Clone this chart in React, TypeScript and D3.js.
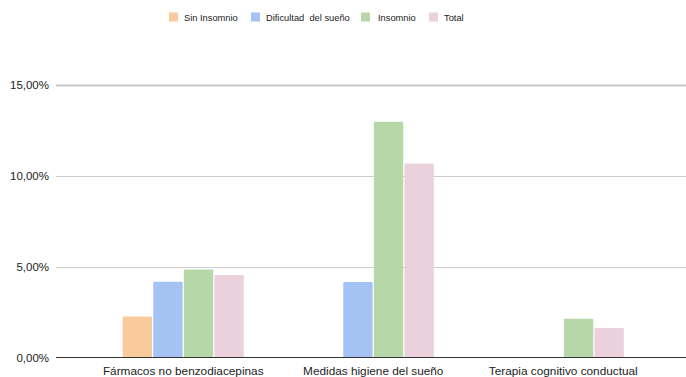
import React from "react";
import * as d3 from "d3";

const categories = ["Fármacos no benzodiacepinas", "Medidas higiene del sueño", "Terapia cognitivo conductual"];
const seriesNames = ["Sin Insomnio", "Dificultad  del sueño", "Insomnio", "Total"];
const seriesColors = ["#f9cb9c", "#a4c2f4", "#b6d7a8", "#ead1dc"];
const sinInsomnio = [2.26, 0, 0];
const dificultad = [4.17, 4.16, 0];
const insomnio = [4.85, 12.98, 2.13];
const total = [4.54, 10.68, 1.62];
const yTicks = [0, 5, 10, 15];
const legendX = [169, 251, 361, 429];
const legendTextX = [184, 266, 378, 444];

const W = 686;
const H = 377;

export default function App() {
  const series = [sinInsomnio, dificultad, insomnio, total];
  const y = d3.scaleLinear().domain([0, 15]).range([357.5, 85]);
  const x0 = d3.scaleBand<string>().domain(categories).range([88.5, 658]).paddingInner(0.363).paddingOuter(0.18);
  const x1 = d3.scaleBand<number>().domain(d3.range(seriesNames.length)).range([0, x0.bandwidth()]).paddingInner(0.04);
  const fmt = (v: number) => v.toFixed(2).replace(".", ",") + "%";
  const font = "Arial, 'Liberation Sans', sans-serif";
  return (
    <svg width={W} height={H} style={{ position: "absolute", left: 0, top: 0, background: "#fff" }} fontFamily={font}>
      {yTicks.map((t) => (
        <g key={t}>
          {t > 0 && (
            <line x1={56} x2={W} y1={Math.round(y(t)) + 0.5} y2={Math.round(y(t)) + 0.5} stroke={t === 15 ? "#c8c8c8" : "#cccccc"} strokeWidth={t === 15 ? 2 : 1} />
          )}
          <text x={49} y={y(t)} dy="0.35em" textAnchor="end" fontSize={11.5} fill="#222">{fmt(t)}</text>
        </g>
      ))}
      {categories.map((c, ci) => (
        <g key={c} transform={`translate(${x0(c)},0)`}>
          {series.map((s, si) => (
            <rect key={si} x={x1(si)} y={y(s[ci])} width={x1.bandwidth()} height={y(0) - y(s[ci])} fill={seriesColors[si]} rx={1} />
          ))}
          <text x={x0.bandwidth() / 2} y={375} textAnchor="middle" fontSize={11.8} fill="#222">{c}</text>
        </g>
      ))}
      <line x1={56} x2={W} y1={357.5} y2={357.5} stroke="#333" strokeWidth={1} />
      {seriesNames.map((n, i) => (
        <g key={n}>
          <rect x={legendX[i]} y={12.5} width={9} height={9} fill={seriesColors[i]} />
          <text x={legendTextX[i]} y={20.5} fontSize={9.3} fill="#222" style={{ whiteSpace: "pre" }}>{n}</text>
        </g>
      ))}
    </svg>
  );
}
